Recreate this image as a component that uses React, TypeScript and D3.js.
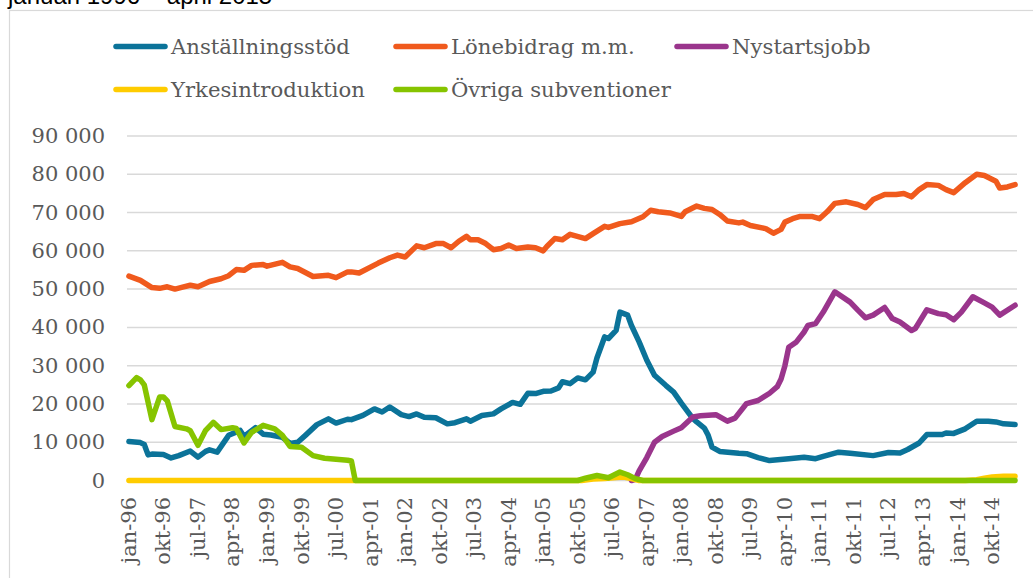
import React from "react";
import * as d3 from "d3";

// kategorier: jan-96 .. apr-15 (månadsvis)
const monthNames = ["jan", "feb", "mar", "apr", "maj", "jun", "jul", "aug", "sep", "okt", "nov", "dec"];
const months: string[] = [];
for (let y = 1996; y <= 2015; y++) {
  for (let m = 0; m < 12; m++) {
    if (y === 2015 && m > 3) break;
    months.push(`${monthNames[m]}-${String(y).slice(2)}`);
  }
}

const yTicks = [0, 10000, 20000, 30000, 40000, 50000, 60000, 70000, 80000, 90000];

// [månadsindex, antal personer]
const anstallningsstod: [number, number][] = [
  [0, 10200], [3, 9900], [4, 9400], [5, 6700], [6, 6900], [9, 6800], [11, 5900], [13, 6500],
  [16, 7700], [18, 6100], [20, 7600], [21, 8000], [23, 7400], [26, 11800], [29, 13100], [30, 11500],
  [33, 13800], [35, 12100], [37, 11900], [40, 11300], [42, 9700], [44, 10000], [46, 11800],
  [49, 14600], [52, 16100], [54, 15000], [57, 16000], [58, 15900], [61, 17000], [64, 18700],
  [66, 17900], [68, 19200], [71, 17200], [73, 16700], [75, 17400], [77, 16500], [80, 16400],
  [83, 14800], [85, 15100], [88, 16100], [89, 15500], [92, 17000], [95, 17400], [97, 18700],
  [100, 20400], [102, 19900], [104, 22800], [106, 22700], [108, 23300], [110, 23400], [112, 24200],
  [113, 25800], [115, 25300], [117, 26800], [119, 26300], [121, 28300], [122, 32000], [124, 37500],
  [125, 37100], [127, 39200], [128, 44000], [130, 43200], [131, 40500], [133, 36200], [135, 31400],
  [137, 27500], [140, 24800], [142, 23100], [144, 20200], [147, 16200], [148, 15300], [150, 13700],
  [151, 11800], [152, 8700], [154, 7600], [159, 7100], [161, 7000], [164, 6000], [167, 5200],
  [172, 5700], [176, 6100], [179, 5700], [181, 6300], [185, 7400], [188, 7100], [194, 6500],
  [198, 7300], [201, 7200], [203, 8100], [206, 9800], [208, 12000], [212, 12000], [213, 12400],
  [215, 12300], [218, 13500], [221, 15500], [224, 15500], [226, 15300], [228, 14800], [231, 14600],
];

const lonebidrag: [number, number][] = [
  [0, 53400], [3, 52300], [6, 50400], [8, 50200], [10, 50600], [12, 50000], [14, 50500], [16, 51000],
  [18, 50600], [21, 52000], [24, 52700], [26, 53500], [28, 55100], [30, 54900], [32, 56200],
  [35, 56400], [36, 56000], [40, 57000], [42, 55800], [44, 55400], [48, 53300], [52, 53600],
  [54, 53000], [57, 54500], [58, 54500], [60, 54200], [65, 56800], [68, 58200], [70, 58900],
  [72, 58400], [75, 61300], [77, 60800], [80, 61900], [82, 61900], [84, 60800], [86, 62500],
  [88, 63800], [89, 62900], [91, 62900], [93, 61900], [95, 60300], [97, 60600], [99, 61500],
  [101, 60600], [104, 61000], [106, 60800], [108, 60000], [109, 61200], [111, 63200], [113, 62900],
  [115, 64300], [119, 63200], [121, 64500], [124, 66400], [125, 66100], [128, 67100], [131, 67600],
  [134, 68900], [136, 70600], [138, 70200], [141, 69900], [144, 69000], [145, 70200], [148, 71700],
  [150, 71100], [152, 70800], [154, 69500], [156, 67800], [159, 67300], [160, 67500], [162, 66600],
  [166, 65800], [168, 64600], [170, 65600], [171, 67500], [173, 68400], [175, 69000], [178, 69000],
  [180, 68400], [182, 70200], [184, 72400], [187, 72800], [190, 72100], [192, 71300], [194, 73400],
  [197, 74700], [200, 74700], [202, 75000], [204, 74100], [206, 76000], [208, 77300], [211, 77100],
  [213, 76000], [215, 75200], [218, 77800], [221, 80000], [223, 79700], [226, 78200], [227, 76400],
  [229, 76700], [231, 77300],
];

const nystartsjobb: [number, number][] = [
  [131, 0], [132, 300], [133, 2500], [135, 6000], [137, 10000], [139, 11500], [142, 12900],
  [144, 13800], [147, 16600], [149, 16900], [153, 17200], [156, 15500], [158, 16300], [161, 20100],
  [164, 20900], [167, 22800], [169, 24500], [170, 26500], [171, 30000], [172, 34800], [174, 36200],
  [176, 38800], [177, 40500], [179, 41000], [181, 44000], [184, 49300], [188, 46600], [190, 44500],
  [192, 42500], [194, 43200], [197, 45200], [199, 42300], [201, 41400], [204, 39200], [205, 39700],
  [208, 44600], [211, 43600], [213, 43300], [215, 42000], [217, 44000], [220, 48000], [223, 46400],
  [225, 45300], [227, 43200], [231, 45800],
];

const yrkesintroduktion: [number, number][] = [
  [0, 0], [118, 0], [121, 400], [124, 500], [127, 800], [129, 900], [131, 500], [133, 0],
  [218, 0], [221, 200], [223, 600], [225, 900], [228, 1100], [231, 1100],
];

const ovriga: [number, number][] = [
  [0, 24800], [2, 26900], [3, 26300], [4, 25000], [6, 15900], [8, 21800], [9, 21800], [10, 20800],
  [12, 14100], [15, 13500], [16, 13000], [18, 9200], [20, 13100], [22, 15200], [24, 13300],
  [27, 13800], [28, 13600], [30, 9800], [32, 12600], [35, 14400], [38, 13500], [40, 11800],
  [42, 8900], [45, 8700], [48, 6500], [51, 5800], [57, 5300], [58, 5100], [59, 0], [117, 0],
  [119, 600], [122, 1300], [125, 700], [128, 2200], [130, 1500], [132, 500], [134, 0], [231, 0],
];

const seriesNames = ["Anställningsstöd", "Lönebidrag m.m.", "Nystartsjobb", "Yrkesintroduktion", "Övriga subventioner"];
const seriesColors = ["#0b7399", "#f05a1d", "#9a358c", "#ffcc00", "#86c400"];
const seriesData = [anstallningsstod, lonebidrag, nystartsjobb, yrkesintroduktion, ovriga];

// legendplacering (x för linjeprov, rad)
const legendPos = [
  { x1: 116, x2: 165, y: 46.5 },
  { x1: 396, x2: 445, y: 46.5 },
  { x1: 677, x2: 726, y: 46.5 },
  { x1: 116, x2: 165, y: 89.5 },
  { x1: 396, x2: 445, y: 89.5 },
];

export default function App() {
  const x = d3.scaleLinear().domain([-0.5, months.length - 0.5]).range([127, 1017]);
  const y = d3.scaleLinear().domain([0, 90000]).range([480.5, 136]);
  const line = d3
    .line<[number, number]>()
    .x((d) => x(d[0]))
    .y((d) => y(d[1]));
  const fmt = (v: number) => d3.format(",")(v).replace(/,/g, " ");
  const textColor = "#595959";

  return (
    <svg
      width={1033}
      height={578}
      style={{ position: "absolute", left: 0, top: 0, background: "#fff" }}
      fontFamily="'DejaVu Serif', serif"
    >
      <text x={8} y={4} fontFamily="'Liberation Sans', Arial, sans-serif" fontSize={24} fill="#000">
        januari 1996 – april 2015
      </text>
      <rect x={9.5} y={10.5} width={1100} height={700} fill="#fff" stroke="#d9d9d9" strokeWidth={1.2} />

      {/* legend */}
      {seriesNames.map((name, i) => (
        <g key={name}>
          <line
            x1={legendPos[i].x1}
            x2={legendPos[i].x2}
            y1={legendPos[i].y}
            y2={legendPos[i].y}
            stroke={seriesColors[i]}
            strokeWidth={5.5}
            strokeLinecap="round"
          />
          <text x={legendPos[i].x2 + 6} y={legendPos[i].y + 7} fontSize={21.2} fill={textColor}>
            {name}
          </text>
        </g>
      ))}

      {/* rutnät och y-axel */}
      {yTicks.map((t) => (
        <g key={t}>
          <line x1={127} x2={1017} y1={y(t)} y2={y(t)} stroke="#d9d9d9" strokeWidth={1.5} />
          <text x={105} y={y(t) + 7} textAnchor="end" fontSize={21} fill={textColor}>
            {fmt(t)}
          </text>
        </g>
      ))}

      {/* x-axel */}
      {months.map((m, i) =>
        i % 9 === 0 ? (
          <text
            key={m}
            transform={`translate(${x(i) + 7},497) rotate(-90)`}
            textAnchor="end"
            fontSize={21}
            fill={textColor}
          >
            {m}
          </text>
        ) : null
      )}

      {/* serier */}
      {seriesData.map((d, i) => (
        <path
          key={seriesNames[i]}
          d={line(d) ?? ""}
          fill="none"
          stroke={seriesColors[i]}
          strokeWidth={5.5}
          strokeLinejoin="round"
          strokeLinecap="round"
        />
      ))}
    </svg>
  );
}
